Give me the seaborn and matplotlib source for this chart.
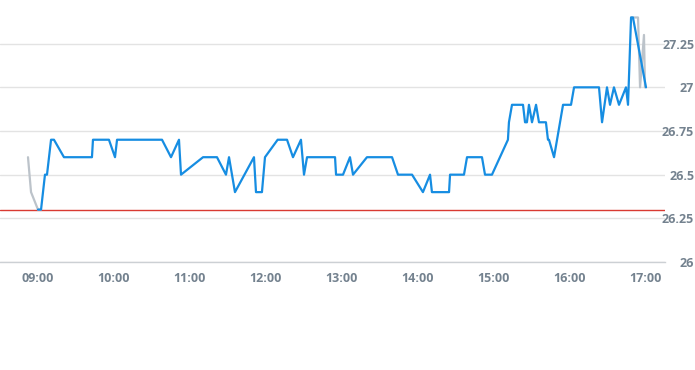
import numpy as np
import pandas as pd
import matplotlib
matplotlib.use("Agg")
import matplotlib.pyplot as plt
import matplotlib.dates as mdates
import seaborn as sns

# ---- data (minutes after 09:00, price) ----
blue_min = [0, 2.4, 5.5, 7.1, 10.3, 12.6, 20.5, 42.6, 43.4, 56, 60.8, 62.4, 97.9, 105,
            111.3, 112.9, 130.3, 141.3, 148.4, 150.8, 155.5, 170.5, 172.1, 176.8, 179.2,
            189.2, 196.6, 201.3, 207.6, 210, 212.4, 234.5, 235.3, 240.8, 246.3, 248.7,
            259.7, 279.5, 284.2, 295.3, 303.9, 309.5, 311, 324.5, 325.3, 336.3, 338.7,
            350.5, 352.9, 358.4, 371, 371.8, 374.2, 382.9, 384.5, 386, 387.6, 390, 393.2,
            395.5, 401, 402.6, 403.4, 407.4, 414.5, 420.8, 423.2, 442.9, 445.3, 449.2,
            451.6, 454.7, 458.7, 464.2, 465.8, 468.2, 469.7, 480]
blue_val = [26.3, 26.3, 26.5, 26.5, 26.7, 26.7, 26.6, 26.6, 26.7, 26.7, 26.6, 26.7, 26.7, 26.6,
            26.7, 26.5, 26.6, 26.6, 26.5, 26.6, 26.4, 26.6, 26.4, 26.4, 26.6,
            26.7, 26.7, 26.6, 26.7, 26.5, 26.6, 26.6, 26.5, 26.5, 26.6, 26.5,
            26.6, 26.6, 26.5, 26.5, 26.4, 26.5, 26.4, 26.4, 26.5, 26.5, 26.6,
            26.6, 26.5, 26.5, 26.7, 26.8, 26.9, 26.9, 26.8, 26.8, 26.9, 26.8, 26.9,
            26.8, 26.8, 26.7, 26.7, 26.6, 26.9, 26.9, 27.0, 27.0, 26.8, 27.0,
            26.9, 27.0, 26.9, 27.0, 26.9, 27.4, 27.4, 27.0]

gray_min = [-7.9, -5.5, 0, 2.4, None, 468.2, 473.7, 475.3, 478.4, 479.2]
gray_val = [26.6, 26.4, 26.3, 26.3, None, 27.4, 27.4, 27.0, 27.3, 27.0]

ref_level = 26.3
y_ticks = [26, 26.25, 26.5, 26.75, 27, 27.25]
y_labels = ["26", "26.25", "26.5", "26.75", "27", "27.25"]
x_hours = [9, 10, 11, 12, 13, 14, 15, 16, 17]

base = pd.Timestamp("2024-01-02 09:00")


def to_time(m):
    return base + pd.to_timedelta(m, unit="min")


blue_df = pd.DataFrame({"time": [to_time(m) for m in blue_min], "price": blue_val})
g1 = pd.DataFrame({"time": [to_time(m) for m in gray_min[:4]], "price": gray_val[:4]})
g2 = pd.DataFrame({"time": [to_time(m) for m in gray_min[5:]], "price": gray_val[5:]})

sns.set_theme(style="white")
plt.rcParams["font.family"] = ["Open Sans", "DejaVu Sans"]

fig = plt.figure(figsize=(6.95, 3.70), dpi=100)
ax = fig.add_axes([0, 1 - 262 / 370, 665 / 695, 262 / 370])

gray_c = "#bcc3ca"
blue_c = "#168de2"
for g in (g1, g2):
    sns.lineplot(data=g, x="time", y="price", ax=ax, color=gray_c, linewidth=1.6,
                 estimator=None, sort=False)
sns.lineplot(data=blue_df, x="time", y="price", ax=ax, color=blue_c, linewidth=1.6,
             estimator=None, sort=False)
ax.axhline(ref_level, color="#d93a32", linewidth=1.0, zorder=1)

ax.set_xlim(to_time(-30), to_time(495))
ax.set_ylim(26, 27.5)
ax.set_xticks([base + pd.Timedelta(hours=h - 9) for h in x_hours])
ax.xaxis.set_major_formatter(mdates.DateFormatter("%H:%M"))
ax.set_yticks(y_ticks)
ax.set_yticklabels(y_labels)
ax.yaxis.tick_right()
ax.set_xlabel("")
ax.set_ylabel("")

ax.grid(axis="y", color="#e3e3e3", linewidth=1.0)
ax.set_axisbelow(True)
for s in ("top", "left", "right"):
    ax.spines[s].set_visible(False)
ax.spines["bottom"].set_color("#ccd0d4")
ax.spines["bottom"].set_linewidth(1.0)

lab_color = "#74828f"
ax.tick_params(axis="x", length=5, width=1, color="#ccd0d4", pad=2.5,
               labelsize=9, labelcolor=lab_color)
ax.tick_params(axis="y", length=0, pad=21, labelsize=9, labelcolor=lab_color)
for lab in ax.get_yticklabels():
    lab.set_horizontalalignment("right")
    lab.set_fontweight("bold")
for lab in ax.get_xticklabels():
    lab.set_fontweight("bold")

fig.savefig("out.png", dpi=100)
